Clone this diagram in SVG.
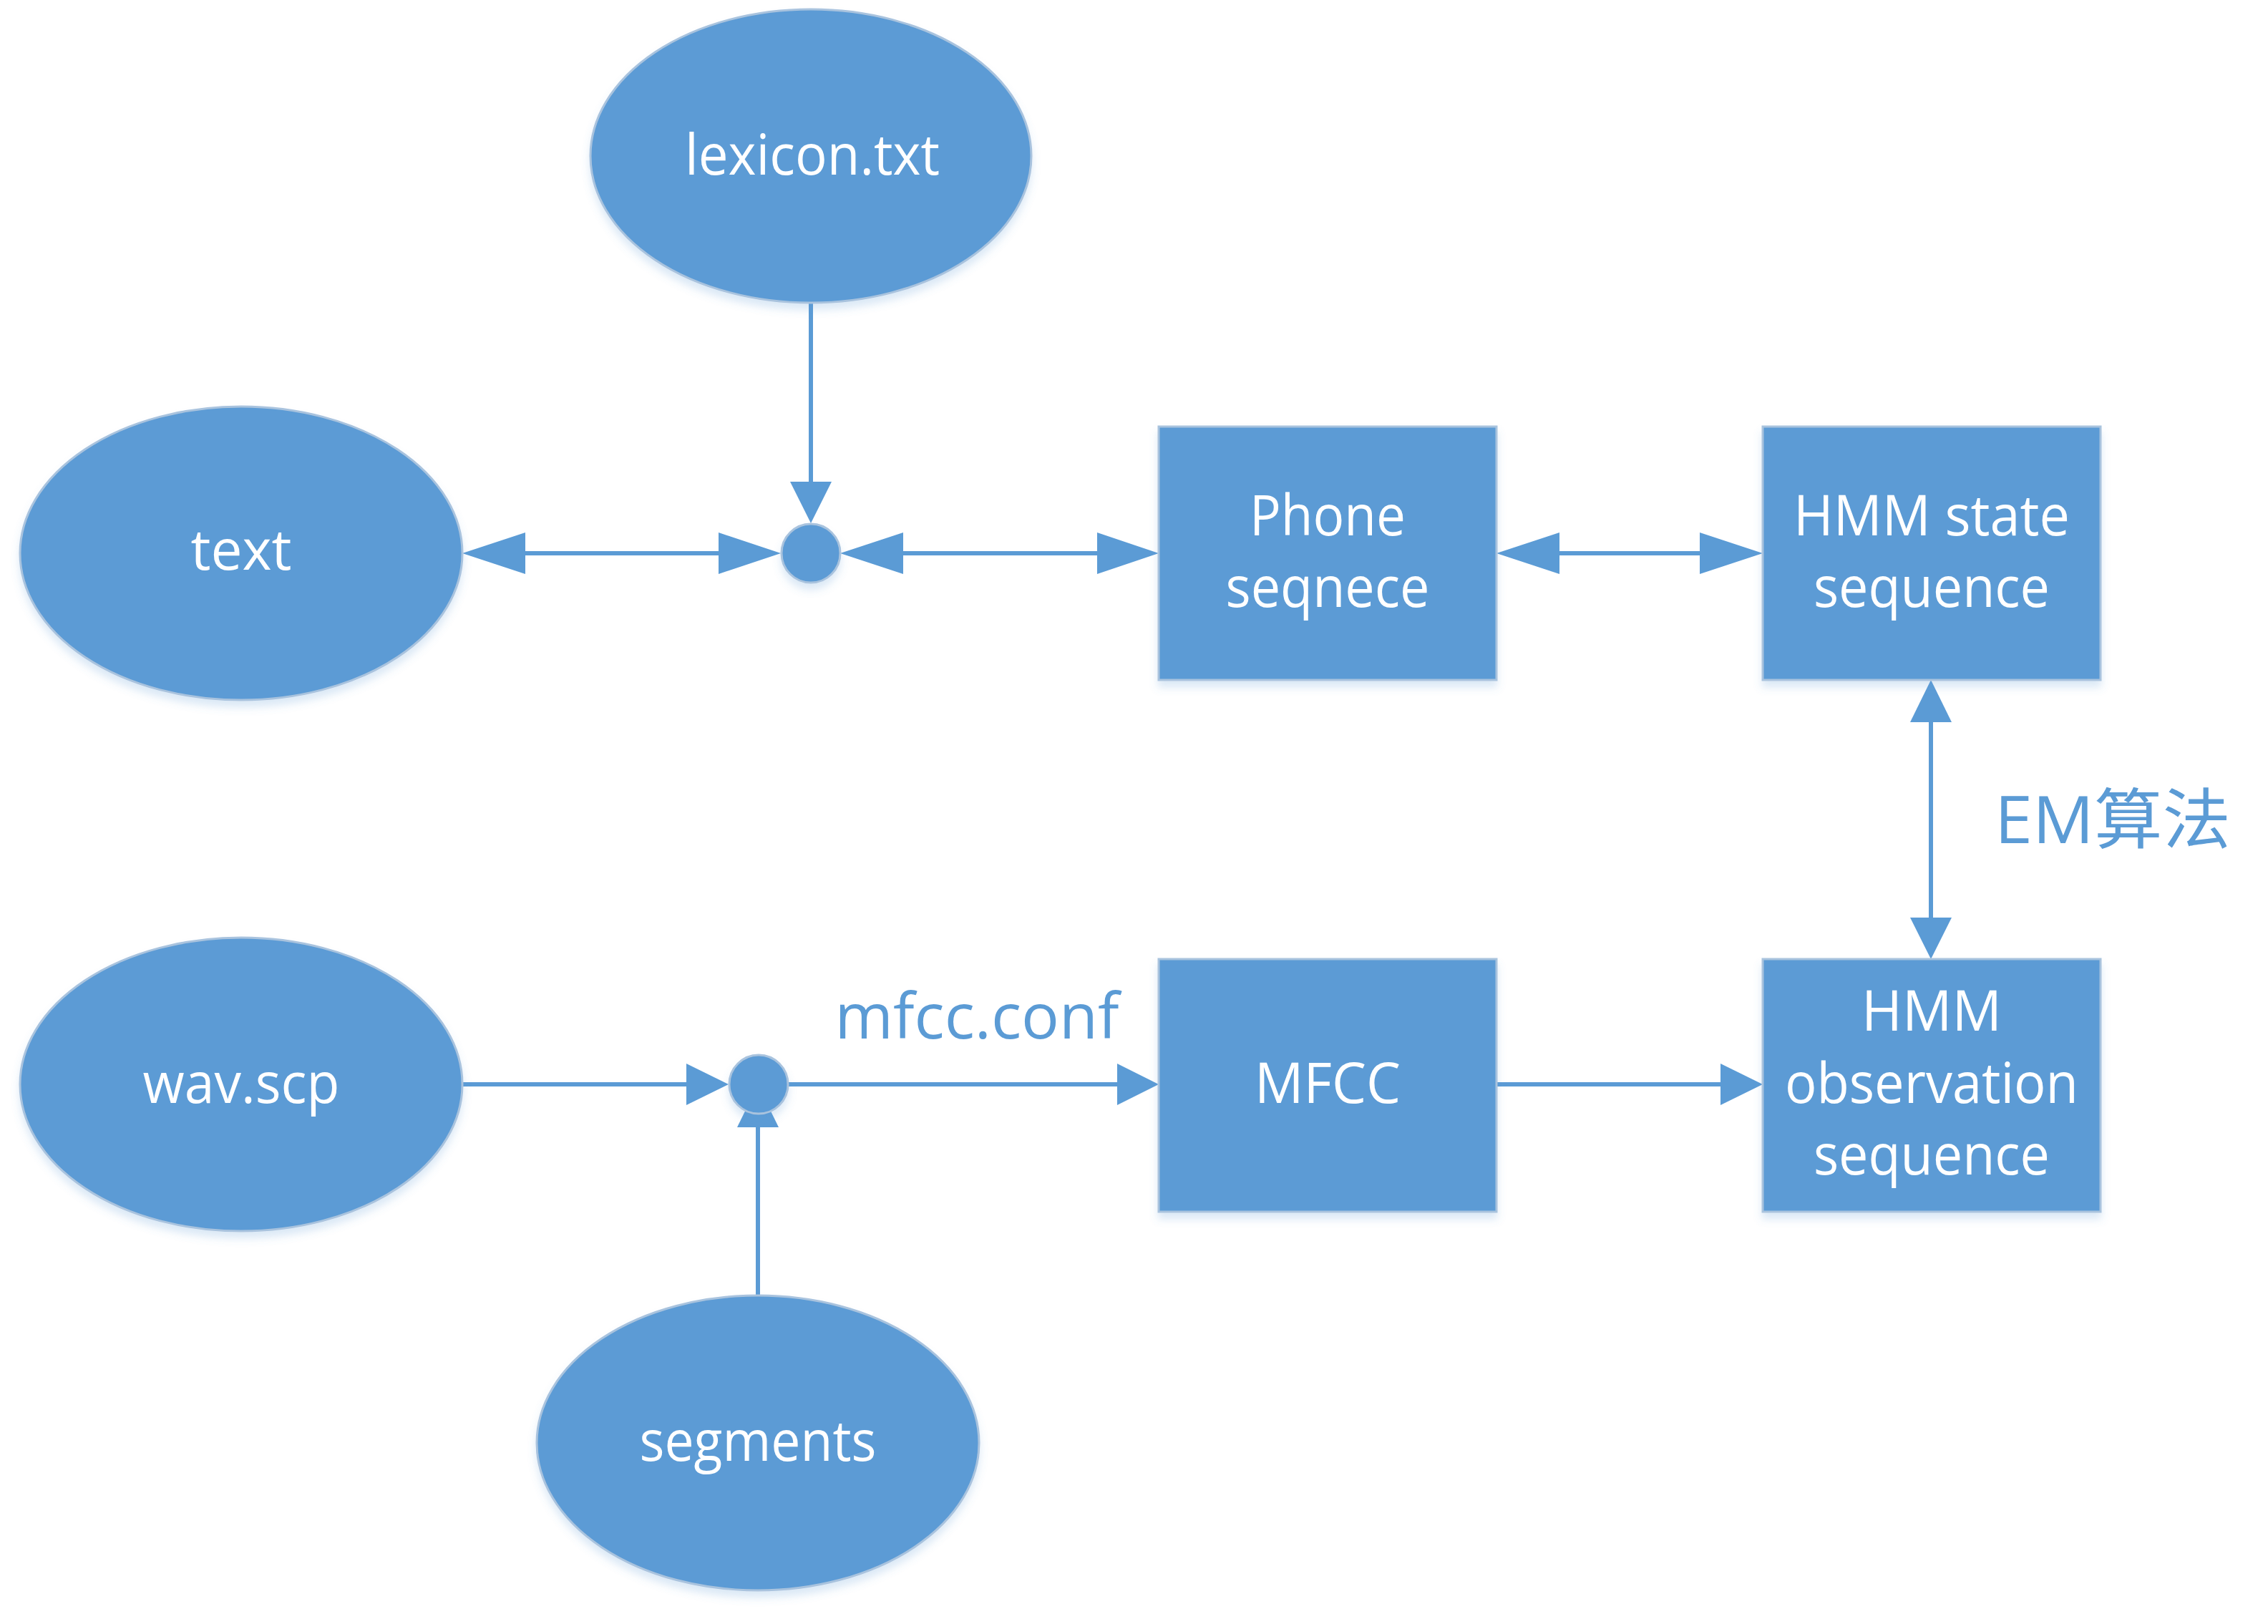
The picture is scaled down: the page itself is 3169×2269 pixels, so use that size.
<svg xmlns="http://www.w3.org/2000/svg" width="3169" height="2269" viewBox="0 0 3169 2269">
  <defs>
    <filter id="shadow" x="-20%" y="-20%" width="140%" height="150%">
      <feDropShadow dx="0" dy="9" stdDeviation="6" flood-color="#5B9BD5" flood-opacity="0.22"/>
    </filter>
  </defs>
  <style>
    .shape { fill: #5B9BD5; stroke: #A9C3DE; stroke-width: 3; filter: url(#shadow); }
    .lbl { fill: #FFFFFF; font-family: "Open Sans", "Noto Sans", "Liberation Sans", sans-serif; font-size: 78px; text-anchor: middle; }
    .edge { stroke: #5B9BD5; stroke-width: 6; fill: none; }
    .head { fill: #5B9BD5; stroke: none; }
    .note { fill: #5B9BD5; font-family: "Open Sans", "Noto Sans", "Liberation Sans", "Noto Sans CJK SC", sans-serif; }
  </style>
  <rect width="3169" height="2269" fill="#FFFFFF"/>

  <g id="connectors">
    <!-- lexicon -> junction 1 -->
    <line class="edge" x1="1133" y1="423" x2="1133" y2="675"/>
    <polygon class="head" points="1104,673 1162,673 1133,731"/>
    <!-- text <-> junction 1 -->
    <line class="edge" x1="732" y1="773" x2="1006" y2="773"/>
    <polygon class="head" points="646,773 734,744 734,802"/>
    <polygon class="head" points="1091,773 1004,744 1004,802"/>
    <!-- junction 1 <-> Phone -->
    <line class="edge" x1="1260" y1="773" x2="1535" y2="773"/>
    <polygon class="head" points="1174,773 1262,744 1262,802"/>
    <polygon class="head" points="1619,773 1533,744 1533,802"/>
    <!-- Phone <-> HMM state -->
    <line class="edge" x1="2177" y1="773" x2="2377" y2="773"/>
    <polygon class="head" points="2091,773 2179,744 2179,802"/>
    <polygon class="head" points="2463,773 2375,744 2375,802"/>
    <!-- HMM state <-> HMM observation -->
    <line class="edge" x1="2698" y1="1007" x2="2698" y2="1284"/>
    <polygon class="head" points="2698,950 2669,1009 2727,1009"/>
    <polygon class="head" points="2698,1340 2669,1282 2727,1282"/>
    <!-- wav.scp -> junction 2 -->
    <line class="edge" x1="646" y1="1515" x2="961" y2="1515"/>
    <polygon class="head" points="1018,1515 959,1486 959,1544"/>
    <!-- junction 2 -> MFCC -->
    <line class="edge" x1="1101" y1="1515" x2="1563" y2="1515"/>
    <polygon class="head" points="1619,1515 1561,1486 1561,1544"/>
    <!-- segments -> junction 2 -->
    <line class="edge" x1="1059" y1="1810" x2="1059" y2="1573"/>
    <polygon class="head" points="1059,1516 1030,1575 1088,1575"/>
    <!-- MFCC -> HMM observation -->
    <line class="edge" x1="2091" y1="1515" x2="2406" y2="1515"/>
    <polygon class="head" points="2463,1515 2404,1486 2404,1544"/>
    <!-- edge labels -->
    <text class="note" x="1365" y="1451" font-size="88" text-anchor="middle">mfcc.conf</text>
    <text class="note" x="2787" y="1178" font-size="92" textLength="330" lengthAdjust="spacingAndGlyphs">EM算法</text>
  </g>

  <g id="lexicon">
    <ellipse class="shape" cx="1133" cy="218" rx="308" ry="205"/>
    <text class="lbl" x="1135" y="244" textLength="356" lengthAdjust="spacingAndGlyphs">lexicon.txt</text>
  </g>
  <g id="text">
    <ellipse class="shape" cx="337" cy="773" rx="309" ry="205"/>
    <text class="lbl" x="337" y="796" textLength="141" lengthAdjust="spacingAndGlyphs">text</text>
  </g>
  <g id="junction1">
    <circle class="shape" cx="1133" cy="773" r="41"/>
  </g>
  <g id="phone">
    <rect class="shape" x="1619" y="596" width="472" height="354"/>
    <text class="lbl" x="1855" y="748" textLength="218" lengthAdjust="spacingAndGlyphs">Phone</text>
    <text class="lbl" x="1855" y="848" textLength="285" lengthAdjust="spacingAndGlyphs">seqnece</text>
  </g>
  <g id="hmm_state">
    <rect class="shape" x="2463" y="596" width="472" height="354"/>
    <text class="lbl" x="2699" y="748" textLength="386" lengthAdjust="spacingAndGlyphs">HMM state</text>
    <text class="lbl" x="2699" y="848" textLength="330" lengthAdjust="spacingAndGlyphs">sequence</text>
  </g>
  <g id="wav">
    <ellipse class="shape" cx="337" cy="1515" rx="309" ry="205"/>
    <text class="lbl" x="337" y="1541" textLength="275" lengthAdjust="spacingAndGlyphs">wav.scp</text>
  </g>
  <g id="segments">
    <ellipse class="shape" cx="1059" cy="2016" rx="309" ry="206"/>
    <text class="lbl" x="1059" y="2041" textLength="331" lengthAdjust="spacingAndGlyphs">segments</text>
  </g>
  <g id="junction2">
    <circle class="shape" cx="1060" cy="1515" r="41"/>
  </g>
  <g id="mfcc">
    <rect class="shape" x="1619" y="1340" width="472" height="353"/>
    <text class="lbl" x="1855" y="1541" textLength="204" lengthAdjust="spacingAndGlyphs">MFCC</text>
  </g>
  <g id="hmm_obs">
    <rect class="shape" x="2463" y="1340" width="472" height="353"/>
    <text class="lbl" x="2699" y="1440" textLength="196" lengthAdjust="spacingAndGlyphs">HMM</text>
    <text class="lbl" x="2699" y="1541" textLength="410" lengthAdjust="spacingAndGlyphs">observation</text>
    <text class="lbl" x="2699" y="1641" textLength="330" lengthAdjust="spacingAndGlyphs">sequence</text>
  </g>
</svg>
